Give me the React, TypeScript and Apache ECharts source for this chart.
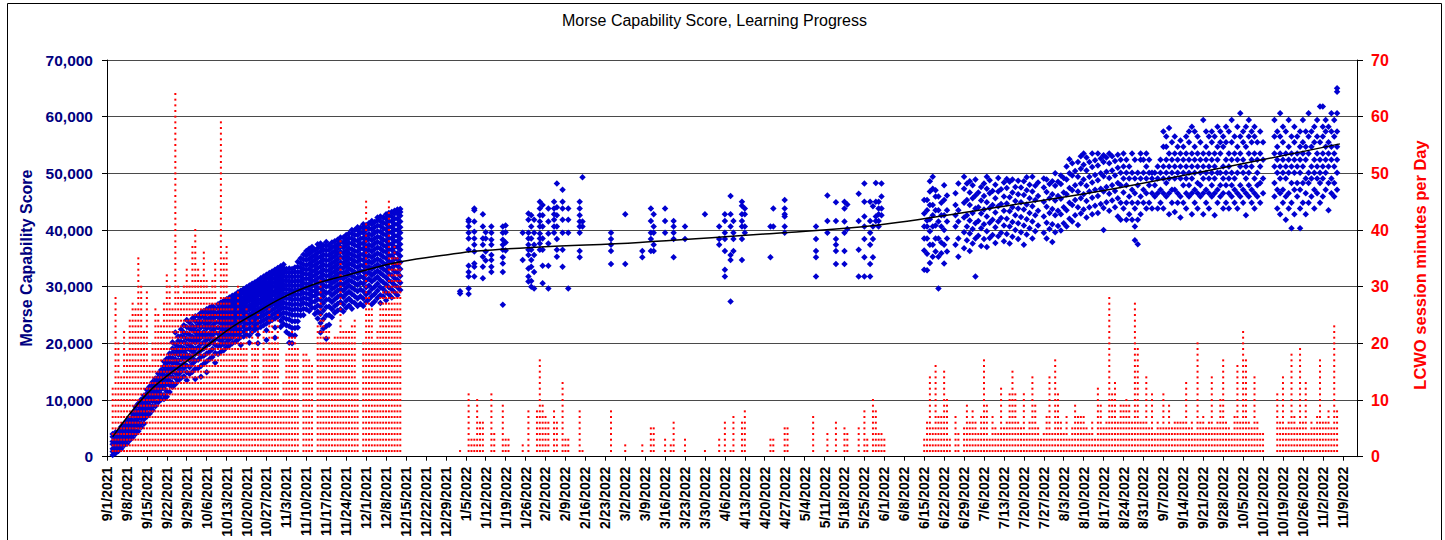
import React, { useEffect, useRef } from "react";
import * as echarts from "echarts";

const chartTitle = "Morse Capability Score, Learning Progress";
const leftAxisName = "Morse Capability Score";
const rightAxisName = "LCWO session minutes per Day";

// weekly tick labels, one every 7 days starting 9/1/2021 (day 0)
const tickLabels = [
  "9/1/2021", "9/8/2021", "9/15/2021", "9/22/2021", "9/29/2021", "10/6/2021", "10/13/2021",
  "10/20/2021", "10/27/2021", "11/3/2021", "11/10/2021", "11/17/2021", "11/24/2021", "12/1/2021",
  "12/8/2021", "12/15/2021", "12/22/2021", "12/29/2021", "1/5/2022", "1/12/2022", "1/19/2022",
  "1/26/2022", "2/2/2022", "2/9/2022", "2/16/2022", "2/23/2022", "3/2/2022", "3/9/2022",
  "3/16/2022", "3/23/2022", "3/30/2022", "4/6/2022", "4/13/2022", "4/20/2022", "4/27/2022",
  "5/4/2022", "5/11/2022", "5/18/2022", "5/25/2022", "6/1/2022", "6/8/2022", "6/15/2022",
  "6/22/2022", "6/29/2022", "7/6/2022", "7/13/2022", "7/20/2022", "7/27/2022", "8/3/2022",
  "8/10/2022", "8/17/2022", "8/24/2022", "8/31/2022", "9/7/2022", "9/14/2022", "9/21/2022",
  "9/28/2022", "10/5/2022", "10/12/2022", "10/19/2022", "10/26/2022", "11/2/2022", "11/9/2022",
];
const lastDay = 439;

// LCWO session minutes per day, index = days since 9/1/2021 (rows = weeks)
const minutesPerDay = [
  0, 0, 12, 28, 20, 14, 22,
  18, 24, 27, 26, 35, 30, 22,
  29, 16, 20, 26, 25, 23, 27,
  32, 30, 26, 64, 30, 28, 30,
  33, 30, 37, 40, 33, 31, 36,
  31, 29, 31, 34, 27, 59, 35,
  37, 28, 26, 22, 30, 25, 20,
  26, 14, 24, 20, 25, 12, 22,
  18, 26, 24, 20, 25, 10, 13,
  18, 21, 22, 21, 19, 0, 18,
  18, 17, 16, 0, 23, 31, 24,
  22, 22, 20, 21, 21, 38, 22,
  22, 22, 23, 24, 13, 0, 20,
  45, 28, 26, 20, 22, 28, 29,
  30, 45, 35, 37, 35, 34, 0,
  0, 0, 0, 0, 0, 0, 0,
  0, 0, 0, 0, 0, 0, 0,
  0, 0, 0, 0, 0, 1, 0,
  0, 11, 3, 3, 10, 6, 6,
  0, 0, 11, 4, 0, 0, 9,
  3, 3, 0, 0, 0, 0, 2,
  0, 8, 0, 0, 8, 17, 9,
  7, 6, 0, 8, 6, 0, 13,
  3, 3, 0, 0, 0, 8, 1,
  0, 0, 0, 0, 0, 0, 0,
  0, 0, 8, 0, 0, 0, 0,
  2, 0, 0, 0, 0, 0, 2,
  0, 0, 5, 5, 0, 0, 0,
  3, 0, 2, 6, 0, 0, 0,
  3, 0, 0, 0, 0, 0, 0,
  1, 0, 0, 0, 0, 3, 0,
  6, 0, 1, 7, 0, 0, 6,
  8, 0, 0, 0, 0, 0, 0,
  0, 0, 3, 3, 0, 0, 0,
  5, 5, 0, 0, 0, 0, 0,
  0, 0, 0, 7, 0, 0, 0,
  0, 4, 0, 0, 6, 0, 0,
  5, 4, 0, 0, 0, 5, 0,
  8, 3, 0, 10, 8, 4, 4,
  3, 0, 0, 0, 0, 0, 0,
  0, 0, 0, 0, 0, 0, 0,
  3, 6, 14, 5, 16, 7, 7,
  15, 10, 3, 0, 7, 4, 0,
  5, 9, 6, 8, 6, 4, 7,
  17, 9, 3, 7, 5, 4, 12,
  5, 6, 11, 15, 11, 6, 5,
  11, 4, 6, 14, 9, 5, 3,
  4, 7, 14, 4, 17, 11, 6,
  4, 7, 3, 5, 9, 7, 7,
  7, 5, 4, 6, 3, 12, 9,
  5, 6, 28, 11, 13, 6, 9,
  9, 10, 9, 6, 27, 19, 6,
  6, 14, 5, 11, 4, 6, 5,
  11, 5, 9, 5, 6, 6, 6,
  6, 13, 5, 6, 4, 20, 6,
  7, 5, 6, 14, 5, 6, 10,
  17, 6, 5, 4, 7, 16, 6,
  22, 17, 6, 5, 14, 6, 4,
  4, 0, 0, 0, 0, 11, 6,
  14, 5, 6, 18, 7, 5, 19,
  6, 13, 4, 6, 5, 7, 17,
  6, 6, 8, 5, 23, 8, 0,
  0, 0, 0, 0, 0,
];

// Morse capability scores (thousands) per day: [day, scores]
const scoresAutumn2021: [number, number[]][] = [
  [2, [0.3, 0.9, 1.4, 2.2, 2.7, 3.5, 4.0]],
  [3, [0.6, 1.3, 1.7, 2.5, 3.1, 3.4, 4.3, 2.0]],
  [4, [1.0, 1.9, 2.3, 2.9, 3.7, 4.4, 1.5, 3.3]],
  [5, [1.4, 2.6, 3.0, 3.6, 4.1, 4.9, 2.1, 5.3]],
  [6, [2.0, 2.8, 3.5, 3.9, 4.7, 5.2, 4.3, 5.8]],
  [7, [2.3, 3.1, 3.7, 4.5, 5.0, 5.6, 6.2, 4.1]],
  [8, [2.9, 3.6, 4.4, 4.9, 5.3, 6.0, 6.7, 3.3]],
  [9, [3.4, 4.0, 4.8, 5.7, 6.3, 7.1, 7.6, 5.2]],
  [10, [4.0, 4.6, 5.5, 6.2, 6.5, 7.4, 8.2, 8.8, 5.9]],
  [11, [4.5, 5.3, 6.0, 6.7, 7.1, 8.0, 8.9, 9.4, 7.6]],
  [12, [5.2, 5.9, 6.8, 7.4, 8.1, 8.6, 9.5, 10.1, 7.0]],
  [13, [5.8, 6.6, 7.5, 8.0, 8.7, 9.3, 10.2, 10.8, 9.0]],
  [14, [7.1, 7.8, 8.4, 9.2, 9.8, 10.4, 11.1, 11.8, 8.9]],
  [15, [7.6, 8.6, 9.1, 9.9, 10.7, 11.0, 11.9, 12.4, 10.3]],
  [16, [8.2, 8.9, 9.8, 10.6, 11.4, 11.9, 12.6, 13.2, 10.1]],
  [17, [8.9, 9.7, 10.5, 11.1, 12.0, 12.5, 13.3, 13.8, 11.6]],
  [18, [9.6, 10.6, 11.3, 11.9, 12.8, 13.4, 14.0, 14.7, 12.4]],
  [19, [10.1, 11.0, 11.9, 12.7, 13.5, 14.0, 14.8, 15.3, 13.1]],
  [20, [10.2, 10.9, 12.1, 13.0, 13.6, 14.4, 15.2, 15.9, 16.8, 12.6]],
  [21, [10.6, 11.5, 12.8, 13.6, 14.3, 15.1, 15.8, 16.5, 17.3, 13.9]],
  [22, [11.4, 12.6, 13.4, 14.2, 15.3, 15.8, 16.7, 17.5, 18.2, 14.8]],
  [23, [12.3, 13.0, 14.1, 15.0, 15.7, 16.5, 17.4, 18.3, 19.1, 20.2]],
  [24, [12.8, 13.9, 14.8, 15.6, 16.6, 17.2, 18.1, 18.9, 19.8, 21.9]],
  [25, [13.4, 14.5, 15.5, 16.3, 17.0, 18.0, 18.6, 19.5, 20.4, 21.2]],
  [26, [13.9, 15.0, 16.0, 17.1, 17.9, 18.6, 19.4, 20.3, 21.3, 22.5]],
  [27, [14.2, 15.6, 16.4, 17.5, 18.5, 19.2, 20.2, 21.1, 21.9, 23.2]],
  [28, [13.5, 14.9, 16.1, 17.3, 18.0, 19.0, 19.9, 20.8, 21.8, 22.9, 24.1]],
  [29, [14.6, 15.8, 17.0, 17.8, 18.9, 19.7, 20.6, 21.5, 22.6, 23.7]],
  [30, [15.0, 16.4, 17.4, 18.5, 19.3, 20.4, 21.2, 22.3, 23.1, 24.4]],
  [31, [13.7, 15.5, 16.9, 18.1, 19.0, 20.1, 21.0, 21.9, 22.8, 23.9, 24.8]],
  [32, [15.6, 17.1, 18.3, 19.3, 20.5, 21.4, 22.2, 23.3, 24.0, 24.9]],
  [33, [14.1, 16.0, 17.6, 18.8, 19.9, 21.0, 21.7, 22.8, 23.7, 24.6, 25.4]],
  [34, [16.4, 17.8, 19.1, 20.2, 21.2, 22.0, 23.0, 23.9, 24.8, 25.7]],
  [35, [14.9, 16.8, 18.2, 19.6, 20.6, 21.5, 22.6, 23.4, 24.3, 25.2, 26.0]],
  [36, [17.2, 18.5, 19.9, 20.9, 21.8, 22.9, 23.7, 24.5, 25.5, 26.3]],
  [37, [17.6, 19.0, 20.3, 21.4, 22.3, 23.1, 24.2, 25.0, 25.8, 26.6]],
  [38, [16.6, 18.3, 19.7, 20.7, 21.9, 22.7, 23.6, 24.6, 25.4, 26.2]],
  [39, [18.1, 19.5, 20.8, 21.7, 22.8, 23.8, 24.6, 25.3, 26.1, 26.9]],
  [40, [18.5, 19.6, 20.4, 21.1, 22.0, 22.7, 23.5, 24.2, 25.0, 25.6, 26.3, 27.2]],
  [41, [18.8, 19.9, 20.9, 21.5, 22.3, 23.2, 23.8, 24.6, 25.3, 26.0, 26.7, 27.5]],
  [42, [19.3, 20.2, 21.0, 21.9, 22.6, 23.4, 24.1, 24.9, 25.5, 26.4, 27.0, 27.8]],
  [43, [19.6, 20.7, 21.5, 22.3, 23.0, 23.9, 24.5, 25.2, 26.0, 26.6, 27.4, 28.1]],
  [44, [20.0, 21.0, 21.8, 22.6, 23.4, 24.1, 24.9, 25.6, 26.3, 27.0, 27.7, 28.4]],
  [45, [20.3, 21.4, 22.2, 22.9, 23.8, 24.5, 25.2, 26.0, 26.7, 27.3, 28.0, 28.6]],
  [46, [20.7, 21.6, 22.5, 23.3, 24.0, 24.9, 25.5, 26.3, 27.0, 27.6, 28.3, 29.0]],
  [47, [19.7, 21.1, 22.0, 22.8, 23.7, 24.4, 25.2, 25.9, 26.6, 27.3, 28.0, 28.7, 29.3]],
  [48, [21.2, 22.1, 23.0, 23.9, 24.6, 25.4, 26.1, 26.9, 27.5, 28.2, 28.9, 29.6]],
  [49, [21.5, 22.5, 23.4, 24.2, 25.0, 25.7, 26.5, 27.2, 27.9, 28.5, 29.2, 29.9]],
  [50, [20.1, 21.4, 22.6, 23.5, 24.4, 25.1, 26.0, 26.7, 27.5, 28.1, 28.8, 29.5, 30.2]],
  [51, [22.0, 22.9, 23.8, 24.7, 25.4, 26.2, 27.0, 27.7, 28.4, 29.1, 29.8, 30.5]],
  [52, [22.4, 23.3, 24.2, 25.0, 25.8, 26.6, 27.3, 28.1, 28.7, 29.4, 30.1, 30.8]],
  [53, [20.0, 21.5, 22.7, 23.6, 24.5, 25.4, 26.1, 26.9, 27.6, 28.4, 29.0, 29.7, 30.4, 31.1]],
  [54, [22.9, 23.8, 24.7, 25.5, 26.3, 27.1, 27.8, 28.6, 29.3, 30.0, 30.7, 31.5]],
  [55, [23.2, 24.1, 25.0, 25.9, 26.6, 27.4, 28.2, 28.9, 29.6, 30.3, 31.0, 31.8]],
  [56, [20.6, 22.3, 23.5, 24.4, 25.3, 26.2, 26.9, 27.7, 28.5, 29.2, 29.9, 30.6, 31.4, 32.1]],
  [57, [23.8, 24.7, 25.6, 26.5, 27.2, 28.0, 28.8, 29.5, 30.2, 30.9, 31.6, 32.4]],
  [58, [24.1, 25.0, 25.9, 26.8, 27.6, 28.4, 29.1, 29.9, 30.6, 31.3, 32.0, 32.7]],
  [59, [21.0, 22.8, 24.4, 25.3, 26.2, 27.0, 27.8, 28.6, 29.3, 30.1, 30.8, 31.5, 32.3, 33.0]],
  [60, [24.7, 25.6, 26.5, 27.3, 28.1, 28.9, 29.7, 30.4, 31.2, 31.9, 32.6, 33.3]],
  [61, [22.9, 24.0, 25.1, 26.0, 26.8, 27.7, 28.5, 29.3, 30.0, 30.8, 31.5, 32.3, 33.0, 33.6]],
  [62, [23.4, 24.5, 25.4, 26.3, 27.2, 28.0, 28.8, 29.6, 30.4, 31.1, 31.9, 32.6, 33.3, 33.9]],
  [63, [22.0, 23.2, 24.3, 25.3, 26.2, 27.0, 27.9, 28.7, 29.5, 30.2, 31.0, 31.7, 32.5, 33.1]],
  [64, [20.1, 21.6, 23.0, 24.2, 25.2, 26.1, 27.0, 27.9, 28.7, 29.5, 30.3, 31.0, 31.8, 32.5, 33.2]],
  [65, [20.0, 21.4, 22.7, 23.9, 25.0, 25.9, 26.8, 27.7, 28.5, 29.3, 30.1, 30.9, 31.7, 32.5, 33.1]],
  [66, [21.4, 22.7, 23.9, 25.0, 26.0, 26.9, 27.8, 28.6, 29.4, 30.2, 31.0, 31.8, 32.6, 33.4]],
  [67, [22.8, 23.9, 25.0, 26.0, 26.9, 27.8, 28.6, 29.4, 30.2, 31.0, 31.8, 32.6, 33.5, 34.4]],
  [68, [24.9, 25.9, 26.8, 27.7, 28.6, 29.4, 30.2, 31.0, 31.8, 32.6, 33.4, 34.2, 35.0]],
  [69, [25.0, 26.1, 27.1, 28.0, 28.9, 29.8, 30.6, 31.4, 32.3, 33.1, 33.9, 34.8, 35.7]],
  [70, [26.0, 27.0, 27.9, 28.8, 29.7, 30.5, 31.4, 32.2, 33.0, 33.8, 34.7, 35.5, 36.3]],
  [71, [25.7, 26.8, 27.8, 28.7, 29.6, 30.5, 31.4, 32.2, 33.1, 34.0, 34.9, 35.8, 36.7]],
  [72, [26.3, 27.3, 28.3, 29.2, 30.1, 31.0, 31.8, 32.7, 33.6, 34.4, 35.3, 36.2, 37.0]],
  [73, [25.2, 26.3, 27.4, 28.4, 29.3, 30.2, 31.1, 32.0, 32.9, 33.8, 34.7, 35.6, 36.5]],
  [74, [24.4, 25.6, 26.7, 27.8, 28.8, 29.7, 30.6, 31.5, 32.4, 33.3, 34.2, 35.1, 36.0, 36.8, 37.5]],
  [75, [21.9, 23.6, 25.2, 26.5, 27.7, 28.8, 29.8, 30.8, 31.7, 32.6, 33.5, 34.4, 35.3, 36.2, 37.0, 37.6]],
  [76, [22.6, 24.3, 25.8, 27.1, 28.3, 29.3, 30.3, 31.2, 32.1, 33.0, 33.9, 34.8, 35.7, 36.5, 37.3]],
  [77, [20.8, 23.0, 24.9, 26.4, 27.7, 28.9, 30.0, 31.0, 31.9, 32.8, 33.7, 34.6, 35.5, 36.4, 37.2, 37.9]],
  [78, [23.3, 25.0, 26.5, 27.8, 29.0, 30.1, 31.1, 32.0, 32.9, 33.8, 34.7, 35.6, 36.5, 37.3]],
  [79, [24.6, 26.0, 27.3, 28.5, 29.6, 30.6, 31.5, 32.4, 33.3, 34.2, 35.1, 36.0, 36.9, 37.8]],
  [80, [25.4, 26.6, 27.8, 28.9, 29.9, 30.9, 31.8, 32.7, 33.6, 34.5, 35.4, 36.3, 37.2, 38.0]],
  [81, [25.8, 27.0, 28.2, 29.3, 30.3, 31.3, 32.2, 33.1, 34.0, 34.9, 35.8, 36.7, 37.5, 38.3]],
  [82, [26.0, 27.3, 28.5, 29.6, 30.6, 31.6, 32.5, 33.4, 34.3, 35.2, 36.1, 37.0, 37.9, 38.7]],
  [83, [25.6, 26.9, 28.2, 29.3, 30.4, 31.4, 32.4, 33.3, 34.2, 35.1, 36.0, 36.9, 37.8, 38.7]],
  [84, [26.3, 27.5, 28.7, 29.8, 30.8, 31.8, 32.7, 33.7, 34.6, 35.5, 36.4, 37.3, 38.2, 39.1]],
  [85, [26.7, 27.9, 29.1, 30.2, 31.2, 32.2, 33.2, 34.1, 35.0, 35.9, 36.8, 37.7, 38.6, 39.4]],
  [86, [26.1, 27.4, 28.7, 29.8, 30.9, 31.9, 32.9, 33.9, 34.8, 35.7, 36.6, 37.6, 38.5, 39.4, 40.0]],
  [87, [27.1, 28.3, 29.5, 30.6, 31.6, 32.6, 33.6, 34.5, 35.4, 36.3, 37.3, 38.2, 39.1, 40.0]],
  [88, [26.6, 27.9, 29.2, 30.3, 31.4, 32.4, 33.4, 34.4, 35.3, 36.2, 37.2, 38.1, 39.1, 40.0, 40.5]],
  [89, [27.0, 28.3, 29.5, 30.7, 31.8, 32.8, 33.8, 34.8, 35.7, 36.7, 37.6, 38.5, 39.5, 40.4]],
  [90, [26.6, 27.9, 29.2, 30.5, 31.6, 32.7, 33.7, 34.7, 35.7, 36.7, 37.6, 38.6, 39.5, 40.4, 41.0]],
  [91, [27.3, 28.6, 29.9, 31.1, 32.2, 33.2, 34.2, 35.2, 36.2, 37.1, 38.1, 39.0, 40.0, 40.9]],
  [92, [27.8, 29.0, 30.2, 31.4, 32.5, 33.5, 34.5, 35.5, 36.5, 37.4, 38.4, 39.3, 40.3, 41.2]],
  [93, [26.9, 28.3, 29.6, 30.9, 32.0, 33.1, 34.2, 35.2, 36.2, 37.2, 38.2, 39.1, 40.1, 41.0, 41.6]],
  [94, [27.4, 28.7, 30.0, 31.3, 32.4, 33.5, 34.6, 35.6, 36.6, 37.6, 38.5, 39.5, 40.5, 41.4]],
  [95, [28.0, 29.3, 30.5, 31.7, 32.8, 33.9, 34.9, 35.9, 36.9, 37.9, 38.8, 39.8, 40.8, 41.7, 42.2]],
  [96, [27.1, 28.5, 29.9, 31.2, 32.4, 33.5, 34.6, 35.7, 36.7, 37.7, 38.7, 39.7, 40.7, 41.6, 42.4]],
  [97, [28.3, 29.6, 30.8, 32.0, 33.1, 34.2, 35.3, 36.3, 37.3, 38.3, 39.3, 40.3, 41.3, 42.2]],
  [98, [27.6, 29.0, 30.4, 31.6, 32.8, 33.9, 35.0, 36.1, 37.1, 38.1, 39.1, 40.1, 41.1, 42.0, 42.8]],
  [99, [28.6, 29.9, 31.1, 32.3, 33.4, 34.5, 35.6, 36.6, 37.6, 38.6, 39.6, 40.6, 41.6, 42.5, 43.0]],
  [100, [28.1, 29.5, 30.8, 32.0, 33.2, 34.3, 35.4, 36.5, 37.5, 38.5, 39.5, 40.5, 41.5, 42.4, 43.2]],
  [101, [29.0, 30.3, 31.5, 32.7, 33.8, 34.9, 36.0, 37.0, 38.0, 39.0, 40.0, 41.0, 42.0, 42.9, 43.4]],
  [102, [28.5, 29.9, 31.2, 32.5, 33.7, 34.8, 35.9, 37.0, 38.0, 39.0, 40.0, 41.0, 42.0, 42.9, 43.6]],
  [103, [29.4, 30.7, 31.9, 33.1, 34.3, 35.4, 36.5, 37.5, 38.5, 39.5, 40.5, 41.5, 42.5, 43.2, 43.7]],
];

const scoresSpring2022: [number, number[]][] = [
  [124, [29.2, 28.8]],
  [127, [41.8, 41.5, 40.6, 39.5, 38.5, 36.5, 33.7, 32.6, 31.8, 29.7, 28.7]],
  [129, [43.8, 43.5, 41.5, 39.7, 38.5, 37.4, 36.2, 34.1, 33.5, 31.8]],
  [132, [42.8, 40.6, 38.5, 37.4, 35.3, 33.5, 31.5]],
  [133, [39.6, 38.5, 36.2, 34.6]],
  [135, [40.6, 39.5, 38.3, 37.4, 35.6, 34.7, 33.5, 32.6]],
  [139, [40.6, 39.5, 38.3, 37.4, 36.5, 35.2, 34.1, 32.6, 26.8]],
  [140, [40.8, 39.6, 37.8, 36.4]],
  [146, [39.5, 34.7]],
  [148, [42.9, 41.8, 39.5, 38.5, 37.4, 36.5, 35.6, 33.2, 31.8, 30.9]],
  [149, [42.6, 40.6, 38.5, 36.5, 34.7, 33.5, 31.0, 30.0]],
  [150, [41.8, 39.5, 37.4, 35.6, 32.6, 29.7]],
  [152, [45.0, 43.8, 42.6, 41.5, 40.6, 39.4, 38.5, 37.6, 36.5]],
  [153, [44.4, 42.6, 40.6, 38.5, 36.5, 33.7, 30.6]],
  [155, [43.8, 41.5, 39.4, 37.6, 33.7, 29.7]],
  [157, [45.0, 43.8, 42.8, 41.8, 40.6, 39.5]],
  [158, [48.2, 44.0, 42.6, 40.6, 38.4, 36.5, 35.3]],
  [160, [47.1, 45.0, 43.8, 41.8, 39.5, 36.5, 33.5]],
  [162, [43.8, 41.8, 39.5, 29.7]],
  [166, [45.0, 43.8, 42.6, 41.5, 40.6, 39.5, 36.3, 35.2]],
  [167, [49.3, 41.5, 40.6]],
  [177, [39.5, 38.4, 37.4, 36.3, 34.0]],
  [182, [42.8, 34.0]],
  [188, [36.3, 35.2]],
  [191, [43.8, 41.6, 39.5, 38.4, 36.3]],
  [192, [42.8, 40.6, 39.5, 37.4, 36.3]],
  [196, [43.8, 41.6, 39.5]],
  [199, [41.6, 40.6, 39.5, 38.4, 35.2]],
  [203, [40.6, 38.4]],
  [210, [42.8]],
  [215, [40.6, 38.4, 37.4]],
  [217, [42.8, 41.6, 39.5, 38.4, 36.3, 33.0, 31.8]],
  [219, [46.0, 42.8, 40.6, 35.6, 34.7, 27.4]],
  [220, [41.6, 39.5, 38.4, 36.3]],
  [223, [45.0, 44.3, 42.8, 41.6, 40.6, 38.4, 34.7]],
  [224, [43.8, 42.8, 40.6, 39.5]],
  [233, [40.6, 35.2]],
  [234, [43.8, 40.6]],
  [238, [45.3, 43.8, 42.8, 42.4, 40.6, 39.5]],
  [249, [40.6, 38.4, 36.3, 35.2, 31.8]],
  [253, [46.1, 41.6, 39.5]],
  [256, [44.9, 41.6, 38.4, 37.4, 36.3, 34.0]],
  [259, [45.0, 43.8, 41.5, 39.5, 36.3, 34.0]],
  [260, [44.5, 40.2]],
  [264, [46.4, 41.6, 36.5, 31.8]],
  [266, [48.2, 45.0, 42.4, 40.6, 38.4, 35.2, 31.8]],
  [268, [45.0, 41.6, 39.5, 37.4, 34.0, 31.8]],
  [269, [44.2, 40.6, 38.4, 35.2]],
  [270, [48.3, 45.0, 42.4, 41.6]],
  [271, [45.0, 43.8, 42.8, 41.6, 40.6]],
  [272, [48.2, 45.9, 43.8, 42.6]],
];

const scoresSummer2022: [number, number[]][] = [
  [287, [33.0, 36.4, 38.5, 40.6, 42.9, 45.3]],
  [288, [32.9, 35.8, 38.5, 40.6, 41.7, 43.5, 45.3]],
  [289, [34.2, 37.4, 39.8, 41.9, 44.4, 46.8, 48.6]],
  [290, [35.3, 37.4, 40.6, 42.6, 44.4, 47.3, 49.4]],
  [291, [36.2, 38.5, 40.8, 43.5, 45.9, 47.0]],
  [292, [29.7, 35.3, 38.5, 41.5, 43.5, 45.9]],
  [293, [35.9, 37.8, 40.6, 42.6, 44.8]],
  [294, [34.1, 37.4, 40.0, 42.6, 45.3, 47.9]],
  [295, [36.2, 38.5, 41.5, 43.5, 46.1]],
  [298, [37.4, 40.6, 42.6, 44.4, 46.5]],
  [299, [35.3, 38.5, 41.5, 43.5, 48.2]],
  [301, [36.8, 39.6, 42.2, 44.8, 47.3, 49.4]],
  [302, [38.2, 40.6, 42.6, 45.3, 48.2]],
  [303, [36.3, 39.4, 41.7, 44.4, 46.6, 48.6]],
  [304, [37.6, 40.2, 43.0, 45.6, 47.9]],
  [305, [31.8, 38.5, 41.2, 43.8, 46.1, 48.9]],
  [306, [39.0, 41.6, 44.0, 46.6]],
  [307, [37.2, 40.3, 42.9, 45.2, 47.6]],
  [308, [38.4, 41.0, 43.6, 46.0, 48.2]],
  [309, [37.0, 39.8, 42.4, 44.9, 47.3, 49.4]],
  [310, [38.6, 41.3, 43.9, 46.5, 48.8]],
  [311, [39.1, 41.8, 44.4, 46.9]],
  [312, [37.7, 40.5, 43.1, 45.6, 48.0]],
  [313, [38.9, 41.5, 44.2, 46.8, 49.2]],
  [314, [39.5, 42.1, 44.6, 47.2]],
  [315, [38.0, 40.8, 43.4, 45.9, 48.4]],
  [316, [39.3, 42.0, 44.7, 47.4, 49.0]],
  [317, [37.6, 40.6, 43.3, 45.8, 48.5]],
  [318, [38.8, 41.4, 44.0, 46.6, 48.9]],
  [319, [40.0, 42.6, 45.1, 47.6]],
  [320, [38.4, 41.2, 43.8, 46.3, 48.7]],
  [321, [39.6, 42.3, 44.9, 47.5]],
  [322, [37.4, 40.8, 43.6, 46.2, 48.6]],
  [323, [39.2, 41.9, 44.5, 47.0, 49.3]],
  [324, [40.3, 43.0, 45.6, 48.0]],
  [325, [38.5, 41.5, 44.2, 46.8, 49.4]],
  [326, [39.8, 42.6, 45.3, 47.8]],
  [327, [40.8, 43.4, 46.0, 48.4]],
  [329, [39.5, 42.4, 45.0, 47.5, 49.1]],
  [330, [38.5, 41.3, 44.1, 46.7, 48.9]],
  [331, [40.2, 43.0, 45.6, 48.1]],
  [332, [37.9, 41.0, 43.7, 46.3, 48.6]],
  [333, [39.6, 42.6, 45.2, 47.8, 50.0]],
  [334, [40.7, 43.4, 46.0, 48.5]],
  [335, [39.9, 42.8, 45.5, 48.1, 49.6]],
  [336, [41.2, 44.0, 46.6, 49.2]],
  [337, [40.6, 43.5, 46.3, 48.9, 51.2]],
  [338, [42.0, 44.8, 47.4, 50.0, 52.5]],
  [339, [41.5, 44.4, 47.0, 49.6, 51.8]],
  [340, [42.6, 45.3, 47.9, 50.4]],
  [341, [40.9, 44.0, 46.8, 49.4, 52.0]],
  [342, [42.9, 45.6, 48.2, 50.8, 53.0]],
  [343, [43.6, 46.3, 48.9, 51.5, 53.5]],
  [344, [42.2, 45.1, 47.8, 50.5, 52.8]],
  [345, [44.0, 46.8, 49.4, 52.0]],
  [346, [42.8, 45.7, 48.4, 51.1, 53.5]],
  [347, [44.3, 47.1, 49.7, 52.3]],
  [348, [43.0, 46.0, 48.8, 51.4, 53.5]],
  [349, [44.6, 47.3, 50.0, 52.6]],
  [350, [40.0, 43.9, 46.8, 49.5, 52.0, 53.2]],
  [351, [44.9, 47.6, 50.3, 52.8]],
  [352, [43.4, 46.4, 49.2, 51.8, 53.5]],
  [353, [45.2, 47.9, 50.5, 53.0]],
  [354, [44.0, 46.9, 49.6, 52.2]],
  [355, [42.4, 45.6, 48.3, 51.0, 53.3]],
  [356, [41.8, 44.8, 47.9, 50.1, 52.4]],
  [357, [43.8, 46.6, 49.1, 51.2, 53.5]],
  [358, [41.8, 44.8, 47.9, 50.1, 52.4]],
  [359, [42.8, 45.9, 49.1, 51.2]],
  [360, [41.8, 44.8, 47.1, 50.1, 53.5]],
  [361, [38.2, 40.6, 43.8, 46.5, 49.1, 52.4]],
  [362, [37.5, 41.8, 44.8, 47.9, 50.1]],
  [363, [42.8, 45.9, 49.1, 52.4, 53.5]],
  [364, [44.8, 47.1, 50.1, 52.4]],
  [365, [43.8, 46.5, 49.1, 51.2, 53.5]],
  [366, [44.8, 47.9, 50.1, 52.4]],
  [367, [43.8, 46.5, 49.1, 50.1]],
  [368, [45.9, 47.9, 50.1]],
  [369, [43.8, 46.5, 49.1, 51.2]],
  [370, [44.8, 47.1, 50.1, 52.4]],
  [371, [43.8, 46.5, 49.1, 51.2, 54.7, 57.4]],
  [372, [45.9, 48.3, 50.1, 52.4, 54.7, 56.5]],
  [373, [42.8, 46.5, 49.1, 51.2, 53.5, 58.0]],
  [374, [44.8, 47.1, 50.1, 52.4, 55.5]],
  [375, [43.2, 47.1, 49.1, 51.2, 53.5, 56.5]],
  [376, [44.8, 46.5, 50.1, 52.4, 54.7]],
  [377, [42.2, 45.9, 49.1, 51.2, 53.5, 55.8]],
  [378, [44.8, 47.9, 50.1, 52.4, 54.7]],
  [379, [43.8, 46.5, 49.1, 51.2, 53.5, 56.5]],
  [380, [45.9, 47.9, 50.1, 52.4, 55.5, 57.4]],
  [381, [42.8, 46.5, 49.1, 51.2, 53.5, 58.2]],
  [382, [44.8, 47.1, 50.1, 52.4, 54.7, 57.4]],
  [383, [43.8, 46.5, 48.3, 51.2, 53.5, 56.5]],
  [384, [45.9, 47.9, 50.1, 52.4, 55.5]],
  [385, [42.8, 46.5, 49.1, 51.2, 53.5, 59.4]],
  [386, [44.8, 47.1, 50.1, 52.4, 54.7, 57.4]],
  [387, [43.8, 46.5, 49.1, 51.2, 53.5, 56.5]],
  [388, [45.9, 47.9, 50.1, 52.4, 55.5, 57.4]],
  [389, [42.6, 46.5, 49.1, 51.2, 53.5, 56.5]],
  [390, [44.8, 47.1, 50.1, 52.4, 54.7, 58.2]],
  [391, [45.9, 47.9, 50.1, 53.5, 55.5, 57.4]],
  [392, [43.8, 46.5, 49.1, 51.2, 54.7, 56.5]],
  [393, [44.8, 47.9, 50.1, 52.4, 55.5, 58.2]],
  [394, [43.8, 46.5, 49.1, 51.2, 53.5, 57.4]],
  [395, [45.9, 47.9, 50.1, 52.4, 55.5, 59.4]],
  [396, [44.8, 47.1, 49.1, 53.5, 56.5]],
  [397, [43.8, 46.5, 50.1, 52.4, 54.7, 58.2]],
  [398, [45.9, 47.9, 51.2, 53.5, 56.5, 60.6]],
  [399, [44.8, 47.1, 50.1, 52.4, 55.5, 57.4]],
  [400, [42.6, 46.5, 49.1, 51.2, 54.7, 58.2]],
  [401, [45.9, 47.9, 50.1, 53.5, 56.5, 59.4]],
  [402, [44.8, 47.1, 51.2, 52.4, 55.5, 57.4]],
  [403, [43.8, 46.5, 49.1, 53.5, 56.5, 58.2]],
  [404, [45.9, 47.9, 50.1, 52.4, 55.5]],
  [405, [44.8, 48.3, 51.2, 53.5, 57.4]],
  [406, [46.5, 49.1, 52.4, 55.5]],
  [410, [45.9, 48.3, 51.2, 53.5, 56.5, 59.4]],
  [411, [43.8, 47.1, 50.1, 52.4, 54.7, 57.4]],
  [412, [42.8, 46.5, 49.1, 51.2, 53.5, 56.5, 60.6]],
  [413, [44.8, 47.1, 50.1, 52.4, 55.5, 58.2]],
  [414, [41.8, 45.9, 49.1, 51.2, 53.5, 57.4]],
  [415, [43.8, 46.5, 50.1, 52.4, 54.7, 59.4]],
  [416, [40.3, 44.8, 48.3, 51.2, 53.5, 56.5]],
  [417, [42.8, 47.1, 50.1, 52.4, 55.5, 58.2]],
  [418, [45.9, 48.3, 51.2, 53.5, 56.5]],
  [419, [40.3, 43.8, 47.1, 50.1, 52.4, 54.7, 57.4]],
  [420, [44.8, 48.3, 51.2, 53.5, 55.5, 59.4]],
  [421, [42.8, 46.5, 49.1, 52.4, 54.7, 57.4]],
  [422, [44.8, 48.3, 50.1, 53.5, 56.5, 60.6]],
  [423, [45.9, 49.1, 51.2, 54.7, 57.4]],
  [424, [43.8, 47.1, 50.1, 52.4, 55.5, 58.2]],
  [425, [46.5, 49.1, 51.2, 53.5, 56.5, 59.4]],
  [426, [44.8, 48.3, 50.1, 52.4, 55.5, 61.8]],
  [427, [45.9, 49.1, 51.2, 53.5, 56.5, 58.2, 61.8]],
  [428, [47.1, 50.1, 52.4, 54.7, 57.4, 59.4]],
  [429, [43.5, 48.3, 51.2, 53.5, 55.5, 58.2]],
  [430, [46.5, 49.1, 52.4, 54.7, 57.4, 60.6]],
  [431, [45.9, 48.3, 51.2, 53.5, 56.5, 59.4]],
  [432, [47.1, 50.1, 52.4, 54.7, 57.4, 60.6, 64.4, 65.0]],
];

// trend line (thousands) read at sample days
const trendLine: [number, number][] = [
  [2, 3.5], [9, 8.2], [16, 12.1], [23, 15.0], [30, 17.6], [37, 20.3], [44, 22.9],
  [51, 25.0], [61, 27.9], [72, 30.3], [84, 32.0], [96, 33.6], [103, 34.4], [119, 35.6],
  [130, 36.3], [152, 37.0], [187, 37.8], [234, 39.4], [271, 40.9], [315, 44.2],
  [356, 47.5], [433, 55.2],
];

const FONT = "'Liberation Sans', Arial, sans-serif";
const NAVY = "#000080";
const RED = "#ff0000";

export default function App() {
  const ref = useRef<HTMLDivElement>(null);

  useEffect(() => {
    if (!ref.current) return;
    const chart = echarts.init(ref.current, null, { renderer: "svg" });

    const tickDays = tickLabels.map((_, i) => i * 7);
    const scatterData = [...scoresAutumn2021, ...scoresSpring2022, ...scoresSummer2022].flatMap(
      ([d, vals]) => vals.map((v) => [d, Math.round(v * 1000)])
    );
    const minutesData = minutesPerDay
      .map((m, d) => [d, m])
      .filter((p) => p[1] > 0);
    const trendData = trendLine.map(([d, v]) => [d, v * 1000]);

    chart.setOption({
      animation: false,
      backgroundColor: "#fff",
      textStyle: { fontFamily: FONT },
      grid: {
        left: 107,
        right: 88,
        top: 60,
        bottom: 83.3,
        containLabel: false,
        outerBoundsMode: "none",
      },
      graphic: [
        {
          type: "rect",
          shape: { x: 7.5, y: 3.5, width: 1434, height: 600 },
          style: { fill: "none", stroke: "#000", lineWidth: 1 },
          silent: true,
          z: -10,
        },
        {
          type: "text",
          x: 714.5,
          y: 20,
          style: {
            text: chartTitle,
            fill: "#000",
            font: `16px ${FONT}`,
            textAlign: "center",
            textVerticalAlign: "middle",
          },
        },
        {
          type: "text",
          x: 26.5,
          y: 258,
          rotation: Math.PI / 2,
          style: {
            text: leftAxisName,
            fill: NAVY,
            font: `bold 16px ${FONT}`,
            textAlign: "center",
            textVerticalAlign: "middle",
          },
        },
        {
          type: "text",
          x: 1420,
          y: 265,
          rotation: Math.PI / 2,
          style: {
            text: rightAxisName,
            fill: RED,
            font: `bold 16.5px ${FONT}`,
            textAlign: "center",
            textVerticalAlign: "middle",
          },
        },
      ],
      xAxis: {
        type: "value",
        min: 0,
        max: lastDay,
        splitLine: { show: false },
        axisLine: { show: true, lineStyle: { color: "#000", width: 1 } },
        axisTick: {
          show: true,
          length: 4,
          customValues: tickDays,
          lineStyle: { color: "#000" },
        },
        axisLabel: {
          customValues: tickDays,
          rotate: 90,
          margin: 10,
          fontSize: 14,
          fontWeight: "bold",
          color: "#000",
          fontFamily: FONT,
          formatter: (v: number) => tickLabels[Math.round(v / 7)] ?? "",
        },
      },
      yAxis: [
        {
          type: "value",
          min: 0,
          max: 70000,
          interval: 10000,
          position: "left",
          axisLine: { show: true, lineStyle: { color: "#000", width: 1 } },
          axisTick: { show: true, length: 5, lineStyle: { color: "#000" } },
          axisLabel: {
            margin: 14,
            fontSize: 15.5,
            fontWeight: "bold",
            color: NAVY,
            fontFamily: FONT,
            formatter: (v: number) => v.toLocaleString("en-US"),
          },
          splitLine: { show: true, lineStyle: { color: "#4a4a4a", width: 1 } },
        },
        {
          type: "value",
          min: 0,
          max: 70,
          interval: 10,
          position: "right",
          axisLine: { show: true, lineStyle: { color: "#000", width: 1 } },
          axisTick: { show: true, length: 6, lineStyle: { color: "#000" } },
          axisLabel: {
            margin: 14,
            fontSize: 16,
            fontWeight: "bold",
            color: RED,
            fontFamily: FONT,
          },
          splitLine: { show: false },
        },
      ],
      series: [
        {
          type: "scatter",
          name: "Score",
          yAxisIndex: 0,
          data: scatterData,
          symbol: "diamond",
          symbolSize: 6.5,
          itemStyle: { color: "#0000d0", opacity: 1 },
          z: 2,
        },
        {
          type: "custom",
          name: "Minutes",
          yAxisIndex: 1,
          data: minutesData,
          encode: { x: 0, y: 1 },
          z: 3,
          renderItem: (_params: any, api: any) => {
            const d = api.value(0);
            const m = api.value(1);
            const children: any[] = [];
            for (let k = 1; k <= m; k++) {
              const p = api.coord([d, k]);
              children.push({
                type: "rect",
                shape: { x: p[0] - 1, y: p[1] - 1, width: 2, height: 2 },
                style: { fill: RED },
              });
            }
            return { type: "group", children };
          },
        },
        {
          type: "line",
          name: "Trend",
          yAxisIndex: 0,
          data: trendData,
          smooth: 0.4,
          symbol: "none",
          lineStyle: { color: "#000", width: 1.5 },
          z: 4,
        },
      ],
    });

    return () => chart.dispose();
  }, []);

  return (
    <div
      ref={ref}
      style={{
        position: "fixed",
        left: 0,
        top: 0,
        width: 1445,
        height: 540,
        background: "#fff",
      }}
    />
  );
}
